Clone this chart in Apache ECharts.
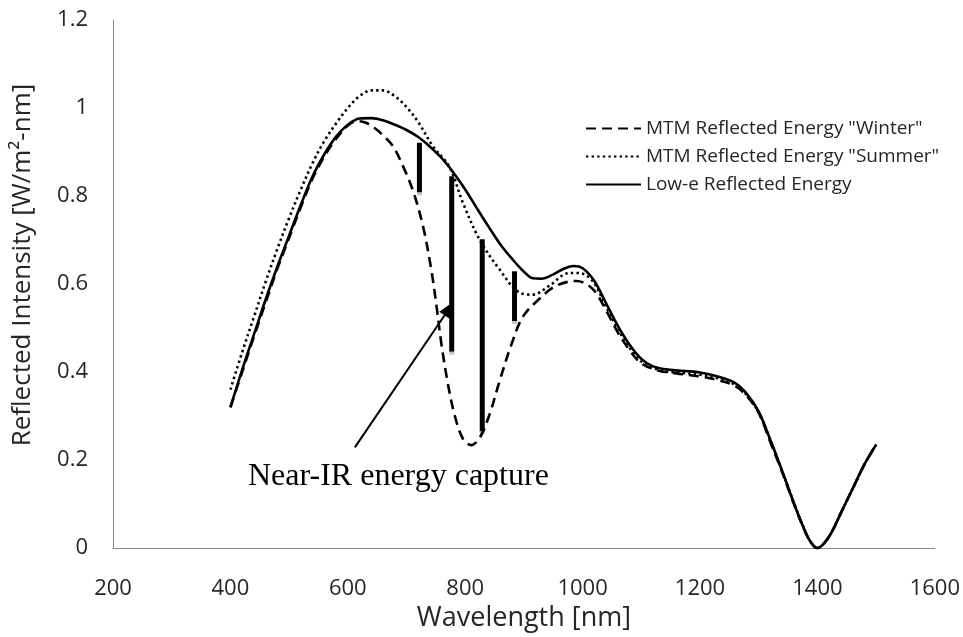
<!DOCTYPE html>
<html>
<head>
<meta charset="utf-8">
<script src="https://cdn.jsdelivr.net/npm/echarts@6/dist/echarts.min.js"></script>
<style>html,body{margin:0;padding:0;background:#fff}#c{width:963px;height:637px}</style>
</head>
<body>
<div id="c"></div>
<script>
// ---- data ----
const xTicks = [200, 400, 600, 800, 1000, 1200, 1400, 1600];
const yTicks = [0, 0.2, 0.4, 0.6, 0.8, 1, 1.2];

const seriesNames = ['MTM Reflected Energy "Winter"', 'MTM Reflected Energy "Summer"', 'Low-e Reflected Energy'];

const winterWl  = [400,420,440,460,480,500,520,540,560,580,600,615,630,645,660,677,694,711,728,742,751,759,770,782,796,810,824,841,858,878,898,926,955,989,1017,1040,1060,1080,1100,1130,1160,1200,1230,1260,1280,1300,1320,1340,1360,1375,1388,1400,1412,1425,1440,1460,1480,1500];
const winterVal = [0.32,0.40,0.48,0.558,0.635,0.705,0.775,0.84,0.89,0.93,0.96,0.97,0.967,0.955,0.938,0.913,0.868,0.812,0.732,0.634,0.551,0.468,0.377,0.302,0.249,0.234,0.249,0.302,0.377,0.46,0.525,0.566,0.596,0.607,0.589,0.54,0.49,0.45,0.42,0.403,0.397,0.39,0.382,0.368,0.345,0.307,0.24,0.172,0.1,0.05,0.015,0.0,0.012,0.038,0.08,0.135,0.19,0.235];

const summerWl  = [400,420,440,460,480,500,520,540,560,580,600,620,640,660,680,700,720,745,773,796,824,858,892,915,943,977,994,1017,1040,1060,1080,1100,1130,1160,1200,1230,1260,1280,1300,1320,1340,1360,1375,1388,1400,1412,1425,1440,1460,1480,1500];
const summerVal = [0.36,0.445,0.525,0.605,0.68,0.75,0.815,0.875,0.925,0.965,1.0,1.027,1.04,1.04,1.027,1.002,0.968,0.913,0.866,0.785,0.702,0.634,0.581,0.576,0.596,0.625,0.625,0.607,0.548,0.498,0.455,0.424,0.405,0.399,0.394,0.386,0.371,0.347,0.308,0.245,0.175,0.102,0.051,0.015,0.0,0.012,0.038,0.08,0.135,0.19,0.235];

const loweWl  = [400,420,440,460,480,500,520,540,560,580,600,620,640,660,680,700,720,740,760,780,800,820,840,860,880,900,915,930,950,970,985,1000,1020,1040,1060,1080,1100,1120,1150,1180,1200,1230,1260,1280,1300,1320,1340,1360,1375,1388,1400,1412,1425,1440,1460,1480,1500];
const loweVal = [0.32,0.405,0.485,0.565,0.64,0.71,0.78,0.845,0.895,0.935,0.962,0.976,0.977,0.972,0.962,0.95,0.934,0.912,0.886,0.853,0.815,0.772,0.73,0.69,0.657,0.628,0.613,0.612,0.622,0.636,0.641,0.636,0.607,0.556,0.505,0.462,0.43,0.413,0.405,0.402,0.399,0.39,0.375,0.35,0.31,0.245,0.175,0.102,0.051,0.015,0.0,0.012,0.038,0.08,0.135,0.19,0.235];

// vertical "capture" bars
const barWl     = [722, 777, 829, 884];
const barTop    = [0.921, 0.845, 0.702, 0.629];
const barBottom = [0.808, 0.446, 0.265, 0.516];

// annotation arrow (from -> to), in data units
const arrowFrom = [612, 0.229];
const arrowTo   = [773, 0.545];
const annotationText = 'Near-IR energy capture';

// ---- chart ----
const zip = (a, b) => a.map((v, i) => [v, b[i]]);
const chart = echarts.init(document.getElementById('c'), null, {renderer: 'canvas'});
const labelFont = '"Open Sans", sans-serif';

chart.setOption({
  animation: false,
  backgroundColor: '#ffffff',
  grid: {left: 113, right: 27, top: 20, bottom: 87, containLabel: false},
  xAxis: {
    type: 'value', min: xTicks[0], max: xTicks[xTicks.length - 1], interval: 200,
    name: 'Wavelength [nm]', nameLocation: 'middle', nameGap: 53,
    nameTextStyle: {fontFamily: labelFont, fontSize: 27, color: '#262626'},
    axisLine: {show: true, lineStyle: {color: '#868686', width: 1}},
    axisTick: {show: false}, splitLine: {show: false},
    axisLabel: {fontFamily: labelFont, fontSize: 22, color: '#262626', margin: 30,
                formatter: v => String(v)}
  },
  yAxis: {
    type: 'value', min: yTicks[0], max: yTicks[yTicks.length - 1], interval: 0.2,
    name: 'Reflected Intensity [W/m²-nm]', nameLocation: 'middle', nameGap: 77,
    nameTextStyle: {fontFamily: labelFont, fontSize: 26, color: '#262626', padding: [0, 0, 0, 38]},
    axisLine: {show: true, lineStyle: {color: '#868686', width: 1}},
    axisTick: {show: false}, splitLine: {show: false},
    axisLabel: {fontFamily: labelFont, fontSize: 22, color: '#262626', margin: 25,
                formatter: v => String(+v.toFixed(1))}
  },
  legend: {
    orient: 'vertical', left: 580, top: 114, itemWidth: 55, itemHeight: 18, itemGap: 9,
    data: seriesNames,
    itemStyle: {color: 'rgba(0,0,0,0)', borderWidth: 0, opacity: 0},
    textStyle: {fontFamily: labelFont, fontSize: 19, color: '#262626', lineHeight: 18}
  },
  series: [
    {
      name: seriesNames[0], type: 'line', data: zip(winterWl, winterVal), smooth: 0.35,
      showSymbol: false, symbol: 'none',
      lineStyle: {color: '#000', width: 2.6, type: [10, 6]}, itemStyle: {color: '#000'}
    },
    {
      name: seriesNames[1], type: 'line', data: zip(summerWl, summerVal), smooth: 0.35,
      showSymbol: false, symbol: 'none',
      lineStyle: {color: '#000', width: 2.6, type: [2.4, 3.2]}, itemStyle: {color: '#000'}
    },
    {
      name: seriesNames[2], type: 'line', data: zip(loweWl, loweVal), smooth: 0.35,
      showSymbol: false, symbol: 'none',
      lineStyle: {color: '#000', width: 2.6}, itemStyle: {color: '#000'},
      markLine: {
        silent: true, animation: false,
        symbol: ['none', 'triangle'], symbolSize: [13, 17], symbolOffset: [0, 0],
        label: {show: false},
        lineStyle: {color: '#000', width: 2, type: 'solid'},
        data: [[{coord: arrowFrom}, {coord: arrowTo}]]
      }
    },
    {
      name: 'bars', type: 'custom', silent: true,
      data: barWl.map((w, i) => [w, barTop[i], barBottom[i]]),
      renderItem: function (params, api) {
        const p1 = api.coord([api.value(0), api.value(1)]);
        const p2 = api.coord([api.value(0), api.value(2)]);
        return {
          type: 'group',
          children: [
            {type: 'rect', shape: {x: p1[0] - 2.5, y: p1[1], width: 5, height: p2[1] - p1[1]}, style: {fill: '#000'}},
            {type: 'rect', shape: {x: p1[0] - 2.5, y: p2[1], width: 5, height: 3}, style: {fill: '#c8c8c8'}}
          ]
        };
      }
    }
  ],
  graphic: [
    {
      type: 'text', left: 248, top: 461, silent: true,
      style: {text: annotationText, font: '32px "Liberation Serif", "Times New Roman", serif', fill: '#000'}
    }
  ]
});
</script>
</body>
</html>
